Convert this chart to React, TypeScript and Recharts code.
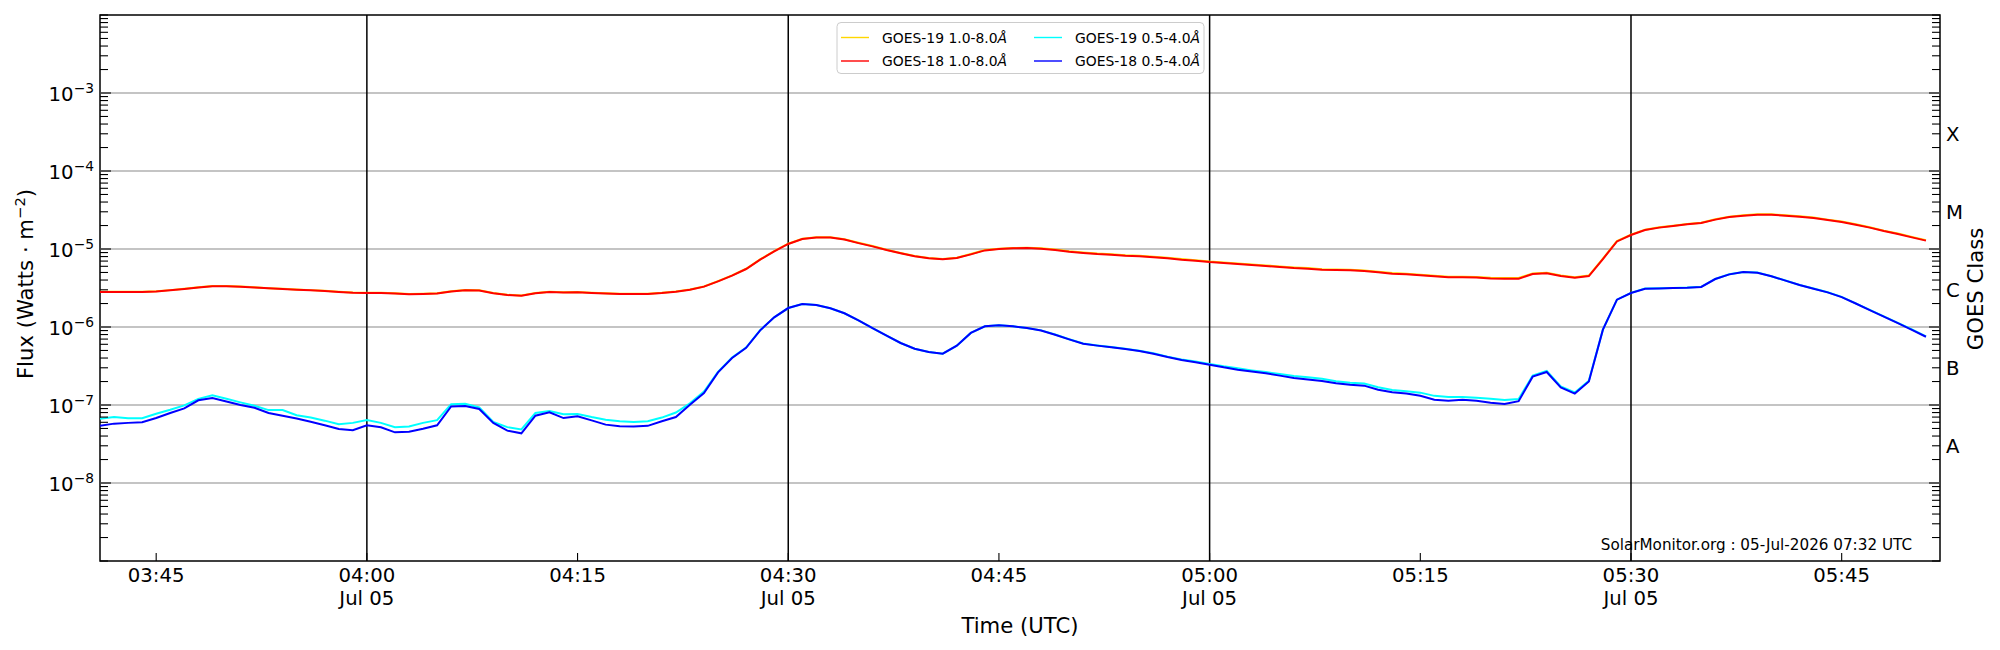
import { LineChart, Line, XAxis, YAxis, ReferenceLine, ReferenceArea } from 'recharts'

const FONT = '"DejaVu Sans", sans-serif'

// one sample per minute, starting 03:41 UTC
const X_END = 131

// 1.0-8.0 A channels, in units of 1e-6 W/m^2
const G19_LONG = [
  2.83, 2.83, 2.83, 2.84, 2.88, 2.97, 3.09, 3.24, 3.35, 3.35,
  3.31, 3.24, 3.15, 3.09, 3.02, 2.97, 2.91, 2.83, 2.77, 2.75,
  2.75, 2.70, 2.65, 2.67, 2.70, 2.88, 2.97, 2.95, 2.72, 2.59,
  2.54, 2.72, 2.83, 2.78, 2.80, 2.75, 2.70, 2.67, 2.67, 2.67,
  2.75, 2.86, 3.02, 3.31, 3.88, 4.59, 5.58, 7.36, 9.41, 11.7,
  13.5, 14.1, 14.1, 13.3, 12.0, 10.9, 9.80, 8.88, 8.12, 7.67,
  7.43, 7.74, 8.61, 9.68, 10.1, 10.3, 10.4, 10.2, 9.82, 9.36,
  9.02, 8.75, 8.58, 8.32, 8.17, 7.94, 7.72, 7.42, 7.19, 6.92,
  6.73, 6.52, 6.34, 6.16, 5.98, 5.81, 5.69, 5.52, 5.47, 5.42,
  5.31, 5.10, 4.91, 4.82, 4.68, 4.53, 4.40, 4.40, 4.37, 4.27,
  4.24, 4.24, 4.85, 4.95, 4.57, 4.36, 4.57, 7.52, 12.6, 15.3,
  17.7, 19.0, 19.9, 20.9, 21.7, 24.0, 26.0, 27.0, 27.8, 27.8,
  27.0, 26.3, 25.3, 23.8, 22.5, 20.7, 19.0, 17.2, 15.8, 14.3,
  13.0
]
const G18_LONG = [
  2.81, 2.81, 2.81, 2.82, 2.86, 2.95, 3.07, 3.22, 3.33, 3.33,
  3.29, 3.22, 3.13, 3.07, 3.00, 2.95, 2.89, 2.81, 2.75, 2.73,
  2.73, 2.68, 2.63, 2.65, 2.68, 2.86, 2.95, 2.93, 2.70, 2.57,
  2.52, 2.70, 2.81, 2.76, 2.78, 2.73, 2.68, 2.65, 2.65, 2.65,
  2.73, 2.84, 3.00, 3.29, 3.85, 4.55, 5.54, 7.30, 9.33, 11.6,
  13.4, 14.0, 14.0, 13.2, 11.9, 10.8, 9.70, 8.80, 8.05, 7.60,
  7.37, 7.67, 8.54, 9.60, 10.0, 10.2, 10.3, 10.1, 9.70, 9.24,
  8.90, 8.63, 8.46, 8.20, 8.05, 7.82, 7.60, 7.30, 7.08, 6.81,
  6.62, 6.42, 6.24, 6.06, 5.88, 5.71, 5.60, 5.43, 5.38, 5.33,
  5.22, 5.02, 4.83, 4.74, 4.60, 4.46, 4.33, 4.33, 4.30, 4.20,
  4.17, 4.17, 4.78, 4.88, 4.50, 4.29, 4.50, 7.44, 12.5, 15.1,
  17.5, 18.8, 19.7, 20.7, 21.5, 23.8, 25.7, 26.7, 27.5, 27.5,
  26.7, 26.0, 25.0, 23.5, 22.2, 20.5, 18.8, 17.0, 15.6, 14.1,
  12.8
]

// 0.5-4.0 A channels, in units of 1e-8 W/m^2
const G19_SHORT = [
  6.68, 7.00, 6.75, 6.75, 7.74, 8.70, 9.90, 12.0, 13.3, 12.0,
  10.8, 9.80, 8.60, 8.60, 7.40, 6.90, 6.30, 5.65, 5.90, 6.40,
  5.90, 5.20, 5.30, 5.90, 6.40, 10.2, 10.4, 9.30, 6.05, 5.20,
  4.87, 7.90, 8.40, 7.60, 7.65, 7.00, 6.49, 6.18, 6.06, 6.18,
  6.90, 8.00, 10.5, 14.9, 26.5, 40.5, 54.5, 91.0, 133, 175,
  197, 192, 174, 150, 122, 97.0, 77.4, 62.4, 52.7, 47.8,
  45.5, 57.7, 84.0, 102, 105, 102, 97.0, 90.5, 80.0, 69.7,
  61.3, 58.0, 55.3, 52.5, 49.6, 46.0, 41.7, 38.4, 36.0, 33.6,
  31.3, 29.5, 27.8, 26.4, 25.0, 23.5, 22.7, 21.7, 20.1, 19.3,
  18.8, 16.9, 15.6, 15.0, 14.4, 13.1, 12.7, 12.7, 12.4, 12.0,
  11.6, 11.9, 23.8, 27.3, 17.3, 14.5, 20.5, 92.5, 224, 274,
  311, 313, 317, 320, 327, 413, 474, 508, 498, 448,
  394, 346, 311, 279, 243, 201, 166, 137, 113, 93.0,
  76.0
]
const G18_SHORT = [
  5.43, 5.77, 5.90, 6.00, 6.80, 7.90, 9.06, 11.5, 12.3, 11.1,
  10.0, 9.20, 7.90, 7.30, 6.70, 6.10, 5.50, 4.92, 4.74, 5.50,
  5.17, 4.46, 4.55, 4.97, 5.50, 9.60, 9.70, 8.90, 5.90, 4.69,
  4.33, 7.30, 8.05, 6.80, 7.15, 6.35, 5.60, 5.33, 5.30, 5.40,
  6.18, 7.00, 10.1, 14.2, 26.2, 40.0, 54.0, 90.6, 133, 175,
  197, 192, 174, 150, 122, 97.0, 77.4, 62.4, 52.7, 47.8,
  45.5, 57.7, 84.0, 102, 105, 102, 97.0, 90.0, 79.7, 69.5,
  61.1, 57.7, 55.0, 52.2, 49.2, 45.5, 41.2, 37.8, 35.3, 32.9,
  30.4, 28.4, 26.8, 25.5, 23.8, 22.2, 21.3, 20.3, 19.0, 18.2,
  17.7, 15.7, 14.6, 14.0, 13.1, 11.7, 11.3, 11.7, 11.3, 10.7,
  10.3, 11.2, 23.1, 26.5, 16.8, 14.0, 20.0, 92.5, 224, 273,
  310, 312, 316, 319, 326, 412, 473, 507, 497, 447,
  393, 345, 310, 278, 242, 200, 165, 136, 112, 92.0,
  75.0
]

const TIME_TICKS = [4, 19, 34, 49, 64, 79, 94, 109, 124]
const TIME_LABELS = ['03:45', '04:00', '04:15', '04:30', '04:45', '05:00', '05:15', '05:30', '05:45']
const DATE_LABEL = 'Jul 05'
const HOUR_LINES = [19, 49, 79, 109]

const EXPONENTS = [-9, -8, -7, -6, -5, -4, -3]
const DECADES = [1e-8, 1e-7, 1e-6, 1e-5, 1e-4, 1e-3]
const CLASS_LEVELS = [3e-8, 3e-7, 3e-6, 3e-5, 3e-4]
const CLASS_NAMES = ['A', 'B', 'C', 'M', 'X']

const SERIES = [
  { key: 'g19l', name: 'GOES-19 1.0-8.0', color: '#ffd700' },
  { key: 'g18l', name: 'GOES-18 1.0-8.0', color: '#ff0000' },
  { key: 'g19s', name: 'GOES-19 0.5-4.0', color: '#00ffff' },
  { key: 'g18s', name: 'GOES-18 0.5-4.0', color: '#0000ff' }
]

const data = G18_LONG.map((v, i) => ({
  t: i,
  g19l: G19_LONG[i] * 1e-6,
  g18l: v * 1e-6,
  g19s: G19_SHORT[i] * 1e-8,
  g18s: G18_SHORT[i] * 1e-8
}))

// log minor ticks 1..9 x 10^n
const logTicks: number[] = []
EXPONENTS.forEach(n => {
  for (let k = 1; k <= 9; k++) logTicks.push(Number(`${k}e${n}`))
})
logTicks.push(1e-2)

const same = (a: number, b: number) => Math.abs(a - b) / b < 1e-6

const LEFT = 100
const RIGHT = 1940
const BOTTOM = 561
const TICK_FS = 19.7
const LABEL_FS = 21.2

const LeftTick = (props: any) => {
  const { y, payload } = props
  const v = payload.value
  const major = DECADES.some(d => same(v, d))
  return (
    <g>
      <line x1={LEFT} x2={LEFT + (major ? 11 : 8)} y1={y} y2={y} stroke='#000' strokeWidth={1.1} />
      {major && (
        <text x={94} y={y + 8} textAnchor='end' fontSize={TICK_FS} fontFamily={FONT} fill='#000'>
          10<tspan dy={-8} fontSize={13.8}>{'\u2212' + Math.round(-Math.log10(v))}</tspan>
        </text>
      )}
    </g>
  )
}

const RightTick = (props: any) => {
  const { y, payload } = props
  const v = payload.value
  const major = DECADES.some(d => same(v, d))
  const ci = CLASS_LEVELS.findIndex(c => same(v, c))
  return (
    <g>
      <line x1={RIGHT} x2={RIGHT - (major ? 11 : 8)} y1={y} y2={y} stroke='#000' strokeWidth={1.1} />
      {ci >= 0 && (
        <text x={1946} y={y + 7} fontSize={TICK_FS} fontFamily={FONT} fill='#000'>{CLASS_NAMES[ci]}</text>
      )}
    </g>
  )
}

const TimeTick = (props: any) => {
  const { x, payload } = props
  const label = TIME_LABELS[TIME_TICKS.indexOf(payload.value)]
  const showDate = label.endsWith(':00') || label.endsWith(':30')
  return (
    <g>
      <line x1={x} x2={x} y1={BOTTOM} y2={BOTTOM - 8} stroke='#000' strokeWidth={1.1} />
      <text x={x} y={582} textAnchor='middle' fontSize={TICK_FS} fontFamily={FONT} fill='#000'>{label}</text>
      {showDate && (
        <text x={x} y={605} textAnchor='middle' fontSize={TICK_FS} fontFamily={FONT} fill='#000'>{DATE_LABEL}</text>
      )}
    </g>
  )
}

const Overlay = () => (
  <svg width={2000} height={650} style={{ position: 'absolute', left: 0, top: 0, pointerEvents: 'none' }}>
    <g fontFamily={FONT} fill='#000'>
      <text x={1020} y={633} textAnchor='middle' fontSize={LABEL_FS}>Time (UTC)</text>
      <text transform='rotate(-90)' x={-284} y={33} textAnchor='middle' fontSize={LABEL_FS}>
        Flux (Watts · m<tspan dy={-8.5} fontSize={14.8}>{'\u22122'}</tspan><tspan dy={8.5}>)</tspan>
      </text>
      <text transform='rotate(-90)' x={-289} y={1983} textAnchor='middle' fontSize={LABEL_FS}>GOES Class</text>
      <text x={1912} y={550} textAnchor='end' fontSize={15.2}>SolarMonitor.org : 05-Jul-2026 07:32 UTC</text>
    </g>
    <rect x={837} y={22.5} width={367} height={51} rx={4} fill='#fff' fillOpacity={0.8} stroke='#cccccc' strokeWidth={1} />
    {SERIES.map((s, i) => {
      const col = Math.floor(i / 2)
      const row = i % 2
      const x0 = col === 0 ? 841 : 1034
      const yc = row === 0 ? 37.5 : 61
      return (
        <g key={s.key}>
          <line x1={x0} x2={x0 + 28} y1={yc} y2={yc} stroke={s.color} strokeWidth={1.4} />
          <text x={x0 + 41} y={yc + 5} fontSize={13.9} fontFamily={FONT} fill='#000'>
            {s.name}<tspan fontStyle='italic'>Å</tspan>
          </text>
        </g>
      )
    })}
  </svg>
)

const App = (): JSX.Element => (
  <div style={{ position: 'absolute', left: 0, top: 0, width: 2000, height: 650, background: '#fff' }}>
    <LineChart width={2000} height={650} data={data} margin={{ top: 15, right: 0, bottom: 0, left: 0 }}>
      <XAxis
        type='number'
        dataKey='t'
        domain={[0, X_END]}
        ticks={TIME_TICKS}
        interval={0}
        height={89}
        axisLine={false}
        tickLine={false}
        tick={TimeTick}
        allowDataOverflow
      />
      <YAxis
        yAxisId='left'
        scale='log'
        domain={[1e-9, 1e-2]}
        ticks={logTicks}
        interval={0}
        width={100}
        axisLine={false}
        tickLine={false}
        tick={LeftTick}
        allowDataOverflow
      />
      <YAxis
        yAxisId='right'
        orientation='right'
        scale='log'
        domain={[1e-9, 1e-2]}
        ticks={logTicks}
        interval={0}
        width={60}
        axisLine={false}
        tickLine={false}
        tick={RightTick}
        allowDataOverflow
      />
      {DECADES.map(d => (
        <ReferenceLine key={d} yAxisId='left' y={d} stroke='#b0b0b0' strokeWidth={1.5} />
      ))}
      {HOUR_LINES.map(h => (
        <ReferenceLine key={h} yAxisId='left' x={h} stroke='#000' strokeWidth={1.5} />
      ))}
      {SERIES.map(s => (
        <Line
          key={s.key}
          yAxisId='left'
          type='linear'
          dataKey={s.key}
          stroke={s.color}
          strokeWidth={2}
          dot={false}
          isAnimationActive={false}
        />
      ))}
      <ReferenceArea yAxisId='left' x1={0} x2={X_END} y1={1e-9} y2={1e-2} fill='none' stroke='#000' strokeWidth={1.5} />
    </LineChart>
    <Overlay />
  </div>
)

export default App
